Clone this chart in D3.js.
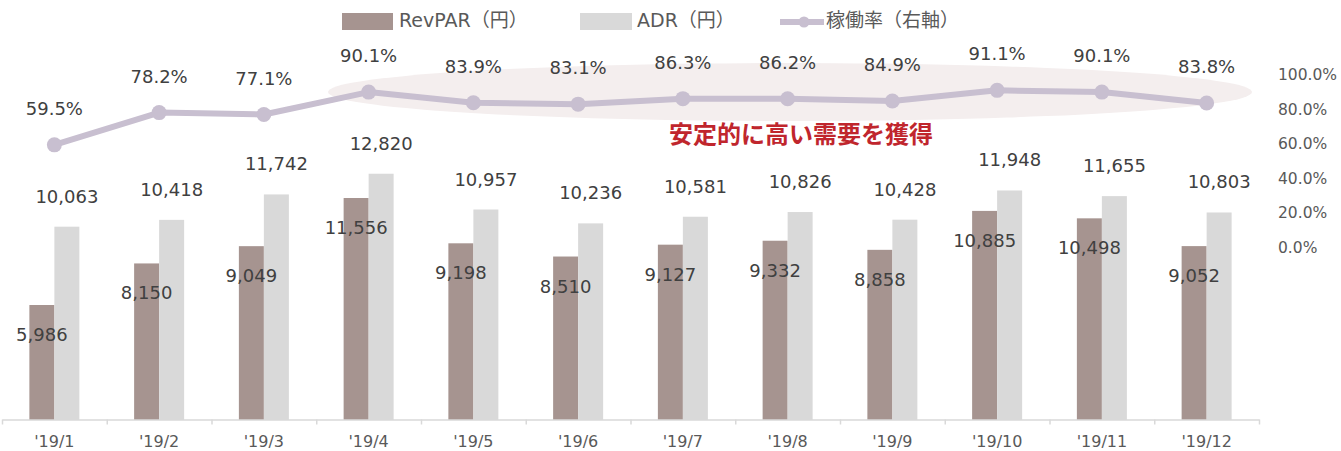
<!DOCTYPE html>
<html>
<head>
<meta charset="utf-8">
<title>RevPAR / ADR / 稼働率</title>
<script src="https://d3js.org/d3.v7.min.js"></script>
<style>
  body { margin: 0; background: #fff; }
  text { font-family: "DejaVu Sans", "Noto Sans CJK JP", sans-serif; }
</style>
</head>
<body>
<svg width="1341" height="451"></svg>
<script>
// data
const months = ["'19/1", "'19/2", "'19/3", "'19/4", "'19/5", "'19/6", "'19/7", "'19/8", "'19/9", "'19/10", "'19/11", "'19/12"];
const revpar = [5986, 8150, 9049, 11556, 9198, 8510, 9127, 9332, 8858, 10885, 10498, 9052];
const adr = [10063, 10418, 11742, 12820, 10957, 10236, 10581, 10826, 10428, 11948, 11655, 10803];
const occ = [59.5, 78.2, 77.1, 90.1, 83.9, 83.1, 86.3, 86.2, 84.9, 91.1, 90.1, 83.8];
const rightTicks = [0, 0.2, 0.4, 0.6, 0.8, 1.0];

const colRev = '#a69490';
const colAdr = '#d9d9d9';
const colLine = '#c8bfd0';
const labelCol = '#404040';
const axisCol = '#595959';

const svg = d3.select('svg');

const x = d3.scaleBand().domain(months).range([2, 1259]);
const bw = x.bandwidth();
const x1 = d3.scaleBand().domain(['rev', 'adr']).range([bw / 2 - 25, bw / 2 + 25]);
const y = d3.scaleLinear().domain([0, 20000]).range([420, 35.8]);
const yR = d3.scaleLinear().domain([0, 1]).range([247.5, 75]);
const xEdge = d3.scaleLinear().domain([0, months.length]).range([2, 1259]);

// highlight ellipse behind the line
svg.append('ellipse')
    .attr('cx', 790).attr('cy', 92)
    .attr('rx', 462).attr('ry', 29)
    .attr('fill', '#f4eeee');

// bars
const rows = months.map((m, i) => ({ m, rev: revpar[i], adr: adr[i], occ: occ[i] }));

const grp = svg.append('g').selectAll('g').data(rows).enter().append('g')
    .attr('transform', d => `translate(${x(d.m)},0)`);

grp.append('rect')
    .attr('x', x1('rev')).attr('width', x1.bandwidth())
    .attr('y', d => y(d.rev)).attr('height', d => y(0) - y(d.rev))
    .attr('fill', colRev);

grp.append('rect')
    .attr('x', x1('adr')).attr('width', x1.bandwidth())
    .attr('y', d => y(d.adr)).attr('height', d => y(0) - y(d.adr))
    .attr('fill', colAdr);

// x axis: line + ticks at band edges
const edgeAxis = d3.axisBottom(xEdge)
    .tickValues(d3.range(months.length + 1))
    .tickSize(5).tickSizeOuter(0).tickFormat('');
const edgeG = svg.append('g').attr('transform', 'translate(0,419.5)').call(edgeAxis);
edgeG.selectAll('path, line').attr('stroke', '#d9d9d9').attr('stroke-width', 1.5);

const xAxis = d3.axisBottom(x).tickSize(0).tickPadding(16);
const xAxisG = svg.append('g').attr('transform', 'translate(0,419.5)').call(xAxis);
xAxisG.select('.domain').remove();
xAxisG.selectAll('text')
    .style('font-size', '16px')
    .attr('fill', axisCol);

// right axis
const rAxis = d3.axisRight(yR).tickValues(rightTicks)
    .tickFormat(d3.format('.1%')).tickSize(0).tickPadding(8);
const rAxisG = svg.append('g').attr('transform', 'translate(1270,0)').call(rAxis);
rAxisG.select('.domain').remove();
rAxisG.selectAll('text')
    .style('font-size', '15.5px')
    .attr('fill', axisCol);

// occupancy line
const line = d3.line()
    .x(d => x(d.m) + bw / 2)
    .y(d => yR(d.occ / 100));

svg.append('path').datum(rows)
    .attr('d', line)
    .attr('fill', 'none')
    .attr('stroke', colLine)
    .attr('stroke-width', 6)
    .attr('stroke-linejoin', 'round');

svg.append('g').selectAll('circle').data(rows).enter().append('circle')
    .attr('cx', d => x(d.m) + bw / 2)
    .attr('cy', d => yR(d.occ / 100))
    .attr('r', 7.5)
    .attr('fill', colLine);

// data labels
const fmt = d3.format(',');
const labels = svg.append('g').style('font-size', '18px').attr('fill', labelCol).attr('text-anchor', 'middle');

labels.selectAll('.lab-adr').data(rows).enter().append('text')
    .attr('x', d => x(d.m) + x1('adr') + x1.bandwidth() / 2)
    .attr('y', d => y(d.adr) - 24)
    .text(d => fmt(d.adr));

labels.selectAll('.lab-rev').data(rows).enter().append('text')
    .attr('x', d => x(d.m) + x1('rev') + x1.bandwidth() / 2)
    .attr('y', d => y(d.rev) + 36)
    .text(d => fmt(d.rev));

labels.selectAll('.lab-occ').data(rows).enter().append('text')
    .attr('x', d => x(d.m) + bw / 2)
    .attr('y', d => yR(d.occ / 100) - 30)
    .text(d => d.occ.toFixed(1) + '%');

// callout
svg.append('text')
    .attr('x', 669).attr('y', 143)
    .style('font-size', '24px').style('font-weight', 'bold')
    .attr('fill', '#c0262d')
    .text('安定的に高い需要を獲得');

// legend
const legend = svg.append('g').style('font-size', '19px').attr('fill', axisCol);
legend.append('rect').attr('x', 342).attr('y', 13).attr('width', 51).attr('height', 17).attr('fill', colRev);
legend.append('text').attr('x', 399).attr('y', 27).text('RevPAR（円）');
legend.append('rect').attr('x', 580).attr('y', 13).attr('width', 52).attr('height', 17).attr('fill', colAdr);
legend.append('text').attr('x', 637).attr('y', 27).text('ADR（円）');
legend.append('line').attr('x1', 780).attr('x2', 824).attr('y1', 22).attr('y2', 22)
    .attr('stroke', colLine).attr('stroke-width', 6);
legend.append('circle').attr('cx', 804).attr('cy', 22).attr('r', 5.5).attr('fill', colLine);
legend.append('text').attr('x', 826).attr('y', 27).text('稼働率（右軸）');
</script>
</body>
</html>
